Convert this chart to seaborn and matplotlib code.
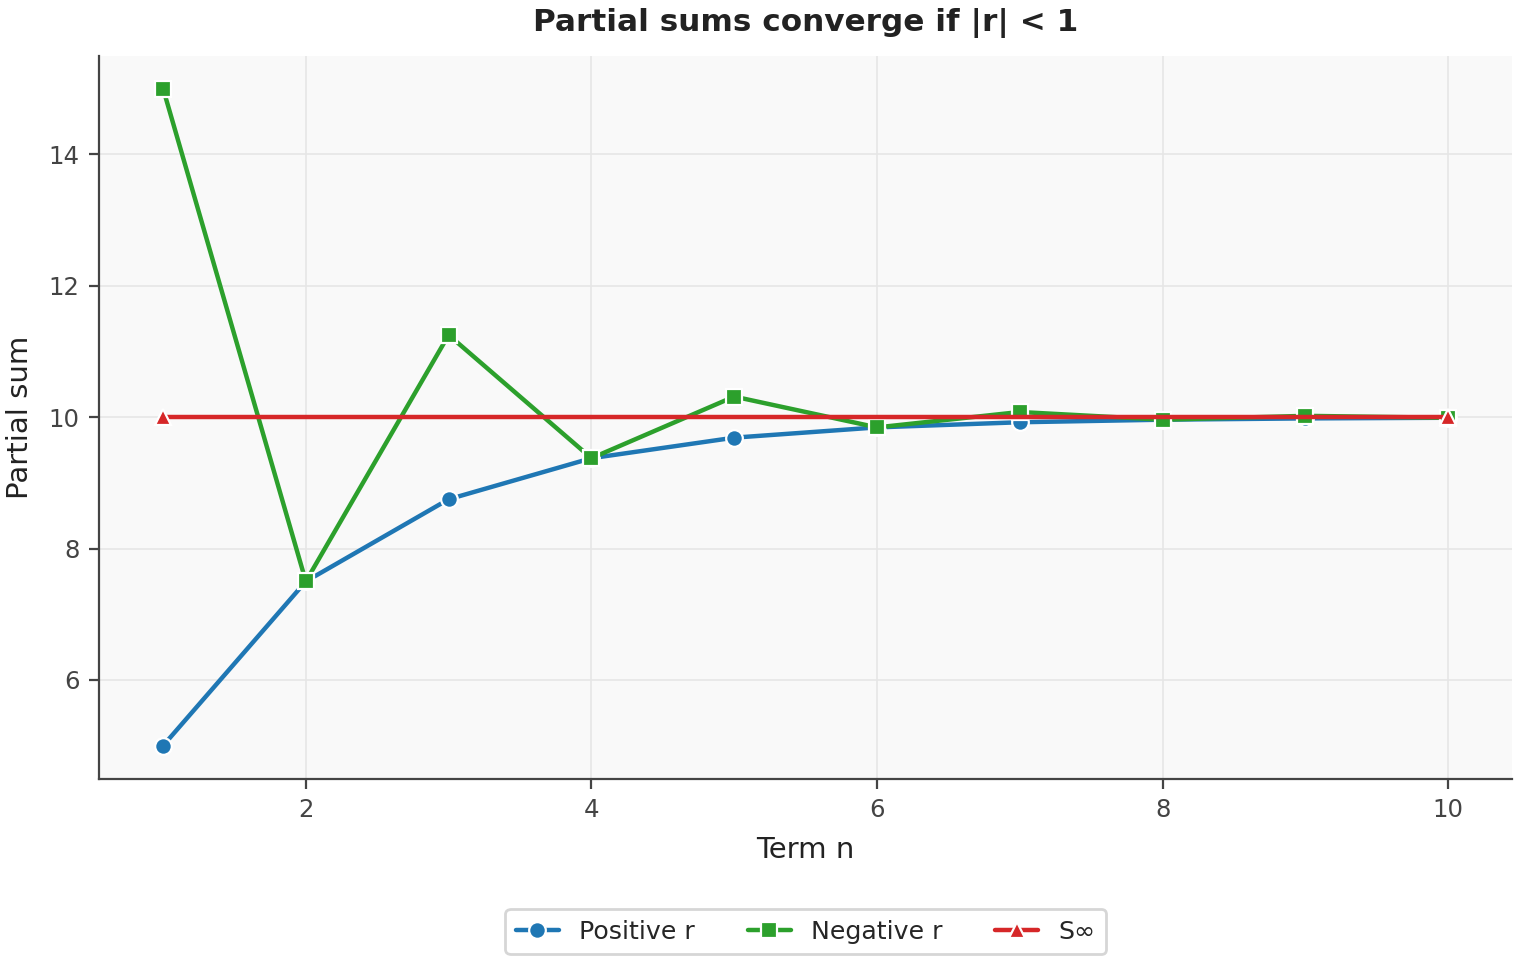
import pandas as pd
import seaborn as sns
import matplotlib.pyplot as plt

# Partial sums
terms = [1, 2, 3, 4, 5, 6, 7, 8, 9, 10]
positive_r = [5.0, 7.5, 8.75, 9.375, 9.6875, 9.84375, 9.921875, 9.9609, 9.9805, 9.9902]
negative_r = [15.0, 7.5, 11.25, 9.375, 10.3125, 9.84375, 10.078, 9.961, 10.0195, 9.9902]
# limit line: only the two end points are marked
s_inf_terms = [1, 10]
s_inf = [10, 10]
series_names = ['Positive r', 'Negative r', 'S\u221e']
colors = ['#1f77b4', '#2ca02c', '#d62728']

df = pd.concat([
    pd.DataFrame({'n': terms, 'sum': positive_r, 'series': series_names[0]}),
    pd.DataFrame({'n': terms, 'sum': negative_r, 'series': series_names[1]}),
    pd.DataFrame({'n': s_inf_terms, 'sum': s_inf, 'series': series_names[2]}),
])

sns.set_style('ticks')
plt.rcParams['font.family'] = ['DejaVu Sans']

fig, ax = plt.subplots(figsize=(7.6, 4.8), dpi=200)
ax.set_facecolor('#f9f9f9')
ax.grid(True, color='#e6e6e6', linewidth=0.6)
ax.set_axisbelow(True)

sns.lineplot(data=df, x='n', y='sum', hue='series', style='series',
             hue_order=series_names, style_order=series_names,
             palette=colors, markers=['o', 's', '^'], dashes=False,
             linewidth=1.6, markersize=6, markeredgecolor='white',
             markeredgewidth=0.8, ax=ax)

ax.set_title('Partial sums converge if |r| < 1', fontsize=11.2, fontweight='bold',
             color='#222222', pad=9)
ax.set_xlabel('Term n', fontsize=10.5, color='#222222', labelpad=5)
ax.set_ylabel('Partial sum', fontsize=10.5, color='#222222', labelpad=5)
ax.tick_params(labelsize=8.8, colors='#444444')
ax.set_xticks([2, 4, 6, 8, 10])
ax.set_yticks([6, 8, 10, 12, 14])
ax.set_xlim(0.55, 10.45)
ax.set_ylim(4.5, 15.5)
for side in ['left', 'bottom']:
    ax.spines[side].set_color('#444444')
    ax.spines[side].set_linewidth(0.8)
sns.despine(ax=ax)

handles, labels = ax.get_legend_handles_labels()
ax.legend(handles, labels, loc='upper center', ncol=3, fontsize=9.1,
          frameon=True, bbox_to_anchor=(0.5, -0.181), borderaxespad=0,
          columnspacing=2.1, handlelength=1.7)

fig.subplots_adjust(left=0.065, right=0.995, top=0.942, bottom=0.189)
fig.savefig('out.png', dpi=200)
